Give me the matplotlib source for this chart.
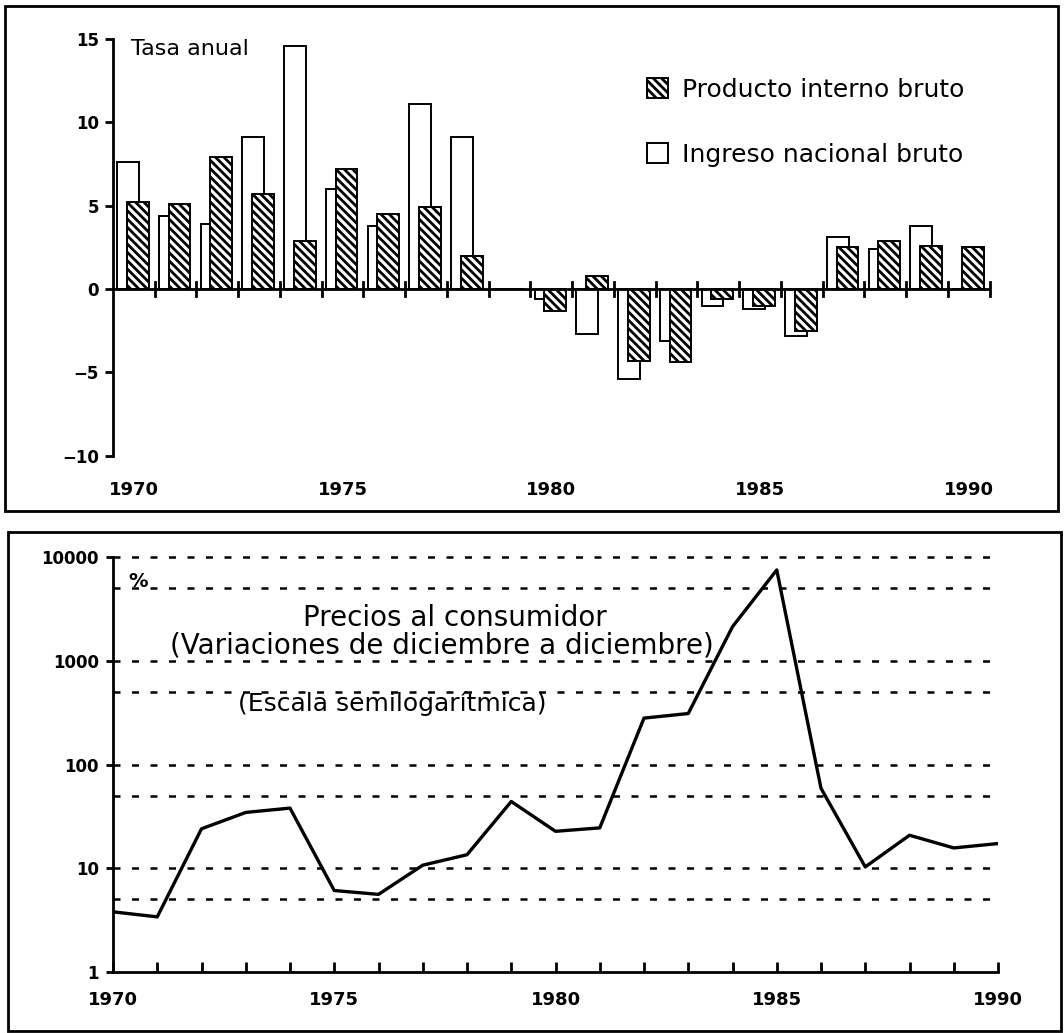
import numpy as np
import matplotlib.pyplot as plt
from matplotlib.patches import Rectangle
from matplotlib.transforms import blended_transform_factory

plt.rcParams['font.family'] = ['DejaVu Sans']
plt.rcParams['hatch.linewidth'] = 2.0

# --- datos ---
anios = np.arange(1970, 1991)
ingreso_nacional = [7.6, 4.4, 3.9, 9.1, 14.6, 6.0, 3.8, 11.1, 9.1, 0.0,
                    -0.6, -2.7, -5.4, -3.1, -1.0, -1.2, -2.8, 3.1, 2.4, 3.8, 0.0]
producto_interno = [5.2, 5.1, 7.9, 5.7, 2.9, 7.2, 4.5, 4.9, 2.0, 0.0,
                    -1.3, 0.8, -4.3, -4.4, -0.6, -1.0, -2.5, 2.5, 2.9, 2.6, 2.5]
precios = [3.8, 3.4, 24.0, 34.5, 38.0, 6.1, 5.6, 10.7, 13.5, 44.0,
           22.7, 24.5, 280, 310, 2130, 7500, 59, 10.3, 20.8, 15.7, 17.3]
etiquetas_anio = [1970, 1975, 1980, 1985, 1990]

fig = plt.figure(figsize=(10.64, 10.33), dpi=100)

# marcos de los dos paneles
fig.patches.append(Rectangle((5/1064, 1-511/1033), 1053/1064, 505/1033,
                             transform=fig.transFigure, fill=False, lw=2, ec='black'))
fig.patches.append(Rectangle((8/1064, 1-1031/1033), 1053/1064, 499/1033,
                             transform=fig.transFigure, fill=False, lw=2, ec='black'))

# ---------------- panel superior: barras ----------------
ax = fig.add_axes([113/1064, 1-459/1033, 885/1064, 425/1033])
ax.bar(anios - 0.14, ingreso_nacional, width=0.52, color='white', edgecolor='black',
       lw=1.4, label='Ingreso nacional bruto', zorder=2)
ax.bar(anios + 0.095, producto_interno, width=0.52, color='white', edgecolor='black',
       lw=1.4, hatch='\\\\\\\\', label='Producto interno bruto', zorder=3)
ax.axhline(0, xmin=0, xmax=21/21.2, color='black', lw=2, zorder=6, solid_capstyle='butt')

ax.set_xlim(1969.5, 1990.7)
ax.set_ylim(-10.2, 15.3)
for s in ['top', 'right', 'bottom']:
    ax.spines[s].set_visible(False)
ax.spines['left'].set_bounds(-10, 15)
ax.spines['left'].set_linewidth(2)
ax.set_yticks([-10, -5, 0, 5, 10, 15], labels=['\u221210', '\u22125', '0', '5', '10', '15'])
ax.tick_params(axis='y', direction='out', length=6, width=2, labelsize=12, pad=4)
for t in ax.get_yticklabels():
    t.set_fontweight('bold')
# marcas de separacion entre anios sobre la linea del cero
ax.set_xticks([])
for b in np.arange(1970.5, 1991.5, 1):
    ax.plot([b, b], [-0.4, 0.4], color='black', lw=2, zorder=6)
trans = blended_transform_factory(ax.transData, ax.transAxes)
for a in etiquetas_anio:
    ax.text(a, -0.073, str(a), transform=trans, ha='center', va='center',
            fontsize=13, fontweight='bold')
ax.text(1969.93, 14.4, 'Tasa anual', fontsize=16, va='center', ha='left')

h, l = ax.get_legend_handles_labels()
ax.legend(h[::-1], l[::-1], loc='upper left', bbox_to_anchor=(0.578, 0.95),
          frameon=False, fontsize=18, labelspacing=1.65, handlelength=0.85,
          handleheight=0.85, handletextpad=0.55)

# ---------------- panel inferior: precios ----------------
ax2 = fig.add_axes([113/1064, 1-972/1033, 885/1064, 415/1033])
ax2.plot(anios, precios, color='black', lw=2.4, zorder=3)
ax2.set_yscale('log')
ax2.set_ylim(1, 10000)
ax2.set_xlim(1970, 1990)
for v in [5, 10, 50, 100, 500, 1000, 5000, 10000]:
    ax2.axhline(v, color='black', lw=1.8, ls=(0, (2.8, 4.6)), zorder=1, clip_on=False)
for s in ['top', 'right']:
    ax2.spines[s].set_visible(False)
ax2.spines['left'].set_linewidth(2)
ax2.spines['bottom'].set_linewidth(2)
ax2.set_yticks([1, 10, 100, 1000, 10000], labels=['1', '10', '100', '1000', '10000'])
ax2.minorticks_off()
ax2.tick_params(axis='y', direction='out', length=5, width=2, labelsize=12, pad=5)
ax2.set_xticks(anios, labels=[str(a) if a in etiquetas_anio else '' for a in anios])
ax2.tick_params(axis='x', direction='in', length=7, width=2, labelsize=13, pad=14)
for t in ax2.get_yticklabels() + ax2.get_xticklabels():
    t.set_fontweight('bold')

ax2.text(1970.35, 5800, '%', fontsize=14, fontweight='bold', va='center')
ax2.text(1977.73, 2580, 'Precios al consumidor', fontsize=20, ha='center', va='center')
ax2.text(1977.43, 1390, '(Variaciones de diciembre a diciembre)', fontsize=20,
         ha='center', va='center')
ax2.text(1976.3, 383, '(Escala semilogar\u00edtmica)', fontsize=18, ha='center', va='center')

plt.savefig('out.png', dpi=100)
